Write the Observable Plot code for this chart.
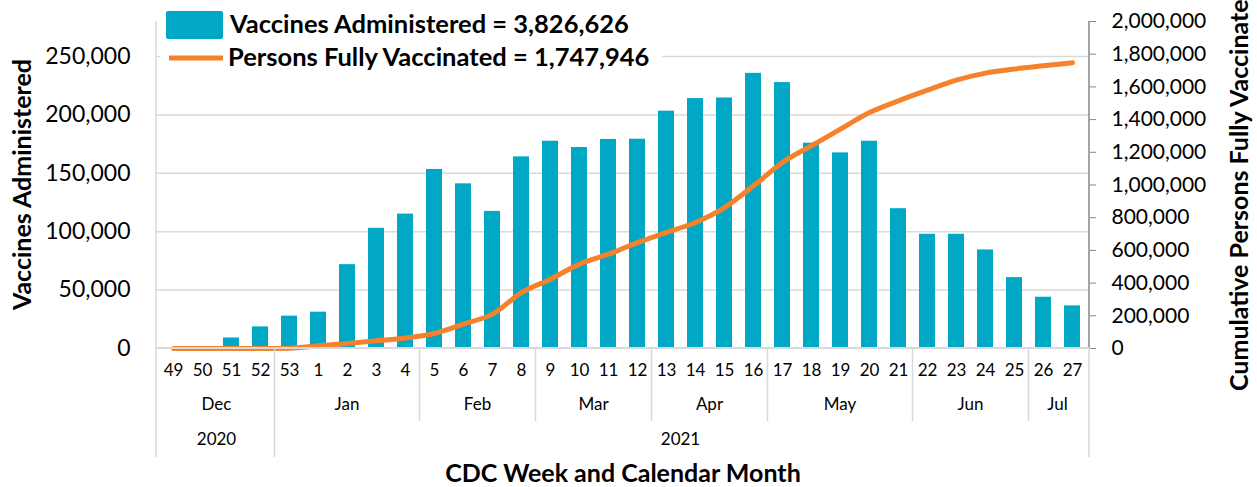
<!DOCTYPE html>
<html>
<head>
<meta charset="utf-8">
<script src="https://cdn.jsdelivr.net/npm/d3@7"></script>
<script src="https://cdn.jsdelivr.net/npm/@observablehq/plot@0.6"></script>
<style>
  html, body { margin: 0; padding: 0; background: #fff; }
  #chart { width: 1257px; height: 487px; overflow: hidden; }
</style>
</head>
<body>
<div id="chart"></div>
<script>
// ---- data ----
const weeks = ["49","50","51","52","53","1","2","3","4","5","6","7","8","9","10","11","12","13","14","15","16","17","18","19","20","21","22","23","24","25","26","27"];
const vaccines = [0, 0, 9000, 18500, 27700, 31100, 71800, 102900, 115100, 153300, 141000, 117400, 164100, 177500, 172100, 179000, 179200, 203200, 214000, 214500, 235600, 227700, 175800, 167500, 177500, 119700, 97800, 97800, 84400, 60700, 43900, 36500];
const fullyVaccinated = [0, 0, 0, 0, 2000, 17000, 31000, 47000, 64000, 92000, 149000, 210000, 342000, 424000, 516000, 577000, 648000, 710000, 771000, 862000, 995000, 1138000, 1240000, 1342000, 1443000, 1515000, 1580000, 1641000, 1684000, 1709000, 1729000, 1747946];

const monthNames = ["Dec","Jan","Feb","Mar","Apr","May","Jun","Jul"];
const monthFirstWeek = ["49","53","5","9","13","17","22","26"];
const monthLastWeek = ["52","4","8","12","16","21","25","27"];
const yearNames = ["2020","2021"];
const yearFirstWeek = ["49","53"];
const yearLastWeek = ["52","27"];

const leftTicks = [0, 50000, 100000, 150000, 200000, 250000];
const rightTicks = [0, 200000, 400000, 600000, 800000, 1000000, 1200000, 1400000, 1600000, 1800000, 2000000];
const leftMax = 280000;
const rightMax = 2000000;

const legendLabels = ["Vaccines Administered = 3,826,626", "Persons Fully Vaccinated = 1,747,946"];
const yLeftTitle = "Vaccines Administered";
const yRightTitle = "Cumulative Persons Fully Vaccinated";
const xTitle = "CDC Week and Calendar Month";

const barColor = "#00a8c6";
const lineColor = "#f5822a";

// ---- table ----
const k = leftMax / rightMax;
const table = weeks.map((w, i) => ({week: w, vaccines: vaccines[i], fully: fullyVaccinated[i]}));
const fmt = d3.format(",");

function extras(index, scales, values, dims, context) {
  const x = scales.x;
  const bw = x.bandwidth();
  const step = x.step();
  const left = dims.marginLeft;
  const right = dims.width - dims.marginRight;
  const top = dims.marginTop;
  const base = dims.height - dims.marginBottom;
  const center = w => x(w) + bw / 2;
  const bStart = w => center(w) - step / 2;
  const bEnd = w => center(w) + step / 2;
  const g = d3.create("svg:g").attr("font-family", "Lato, sans-serif");

  // plot borders
  g.append("line").attr("x1", left).attr("x2", left).attr("y1", top).attr("y2", base + 109)
    .attr("stroke", "#d9d9d9").attr("stroke-width", 1.5);
  g.append("line").attr("x1", right).attr("x2", right).attr("y1", top).attr("y2", base)
    .attr("stroke", "#868686").attr("stroke-width", 1.5);
  g.append("line").attr("x1", right).attr("x2", right).attr("y1", base).attr("y2", base + 109)
    .attr("stroke", "#d9d9d9").attr("stroke-width", 1.5);
  g.append("line").attr("x1", left).attr("x2", right).attr("y1", base).attr("y2", base)
    .attr("stroke", "#d9d9d9").attr("stroke-width", 2);

  // month separators & labels
  monthNames.forEach((m, i) => {
    const x0 = bStart(monthFirstWeek[i]);
    const x1 = bEnd(monthLastWeek[i]);
    const isYear = yearFirstWeek.includes(monthFirstWeek[i]);
    if (i > 0) {
      g.append("line").attr("x1", x0).attr("x2", x0).attr("y1", base).attr("y2", base + (isYear ? 109 : 73))
        .attr("stroke", "#d9d9d9").attr("stroke-width", 1.5);
    }
    g.append("text").attr("x", (x0 + x1) / 2).attr("y", base + 62).attr("text-anchor", "middle")
      .attr("font-size", 17).attr("fill", "#000").text(m);
  });
  yearNames.forEach((yname, i) => {
    const x0 = bStart(yearFirstWeek[i]);
    const x1 = bEnd(yearLastWeek[i]);
    g.append("text").attr("x", (x0 + x1) / 2).attr("y", base + 97).attr("text-anchor", "middle")
      .attr("font-size", 17).attr("fill", "#000").text(yname);
  });

  // axis titles
  g.append("text").attr("x", 623).attr("y", base + 134).attr("text-anchor", "middle")
    .attr("font-size", 25).attr("font-weight", "bold").attr("fill", "#000").text(xTitle);
  g.append("text").attr("transform", `translate(31,${(top + base) / 2}) rotate(-90)`).attr("text-anchor", "middle")
    .attr("font-size", 25).attr("font-weight", "bold").attr("fill", "#000").text(yLeftTitle);
  g.append("text").attr("transform", `translate(1248,391) rotate(-90)`).attr("text-anchor", "start")
    .attr("font-size", 25).attr("font-weight", "bold").attr("fill", "#000").text(yRightTitle);

  // legend
  const lx = left + 4;
  g.append("rect").attr("x", lx).attr("y", 3).attr("width", 502).attr("height", 72).attr("fill", "#fff");
  g.append("rect").attr("x", lx + 6).attr("y", 11).attr("width", 57).attr("height", 28).attr("rx", 2).attr("fill", barColor);
  g.append("text").attr("x", lx + 70).attr("y", 33).attr("text-anchor", "start").attr("font-size", 25.5).attr("font-weight", "bold").attr("fill", "#000").text(legendLabels[0]);
  g.append("line").attr("x1", lx + 9).attr("x2", lx + 63).attr("y1", 58).attr("y2", 58)
    .attr("stroke", lineColor).attr("stroke-width", 5);
  g.append("text").attr("x", lx + 68).attr("y", 66).attr("text-anchor", "start").attr("font-size", 25.5).attr("font-weight", "bold").attr("fill", "#000").text(legendLabels[1]);
  return g.node();
}

const plot = Plot.plot({
  width: 1257,
  height: 487,
  marginTop: 21,
  marginBottom: 139,
  marginLeft: 156,
  marginRight: 168,
  style: {fontFamily: "Lato, sans-serif", fontSize: "22px", color: "#000", background: "#fff"},
  x: {domain: weeks, paddingInner: 0.45, paddingOuter: 0.225, label: null},
  y: {domain: [0, leftMax], label: null},
  marks: [
    Plot.ruleY(leftTicks.filter(d => d > 0), {stroke: "#d9d9d9", strokeWidth: 1.5, strokeOpacity: 1}),
    Plot.barY(table, {x: "week", y: "vaccines", fill: barColor}),
    Plot.line(table, {x: "week", y: d => d.fully * k, stroke: lineColor, strokeWidth: 5, curve: "monotone-x", strokeLinecap: "round", strokeLinejoin: "round"}),
    Plot.axisY(leftTicks, {anchor: "left", tickSize: 0, tickPadding: 26, tickFormat: fmt, fontSize: 23, label: null}),
    Plot.axisY(rightTicks.map(v => v * k), {anchor: "right", tickSize: 6, tickPadding: 16, stroke: "#868686", fill: "#000", tickFormat: v => fmt(Math.round(v / k)), fontSize: 21, label: null}),
    Plot.axisX({tickSize: 0, tickPadding: 15, fontSize: 17, label: null}),
    extras
  ]
});
document.getElementById("chart").appendChild(plot);
</script>
</body>
</html>
